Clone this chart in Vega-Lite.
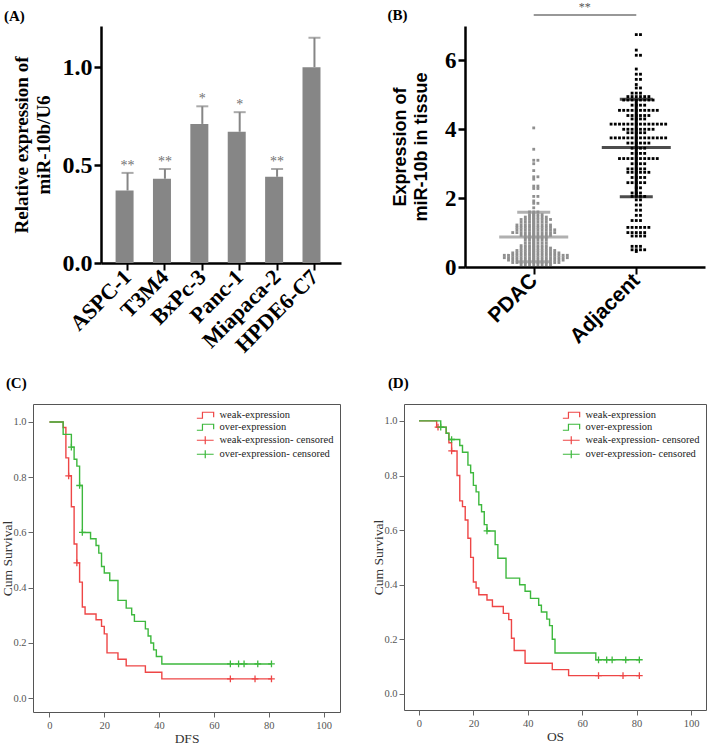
{
  "$schema": "https://vega.github.io/schema/vega-lite/v6.json",
  "background": "white",
  "padding": 0,
  "config": {
    "view": {"stroke": null},
    "font": "Liberation Serif",
    "axis": {"grid": false},
    "title": {"font": "Liberation Serif", "fontWeight": "bold", "fontSize": 15, "color": "black", "anchor": "start", "frame": "bounds"}
  },
  "resolve": {"scale": {"color": "independent"}, "legend": {"color": "independent"}},
  "spacing": 19,
  "vconcat": [
    {
      "spacing": -30,
      "resolve": {"scale": {"color": "independent"}, "legend": {"color": "independent"}},
      "hconcat": [
        {"width": 1, "height": 1, "data": {"values": []}, "mark": "point"},
        {
          "spacing": 46,
          "resolve": {"scale": {"color": "independent"}, "legend": {"color": "independent"}},
          "hconcat": [
            {
              "width": 240,
              "height": 237,
              "title": {"text": "(A)", "offset": 0, "dx": -8},
              "data": {"values": [
                {"cell": "ASPC-1", "value": 0.37, "upper": 0.46, "sig": "**"},
                {"cell": "T3M4", "value": 0.43, "upper": 0.48, "sig": "**"},
                {"cell": "BxPc-3", "value": 0.71, "upper": 0.80, "sig": "*"},
                {"cell": "Panc-1", "value": 0.67, "upper": 0.77, "sig": "*"},
                {"cell": "Miapaca-2", "value": 0.44, "upper": 0.48, "sig": "**"},
                {"cell": "HPDE6-C7", "value": 1.0, "upper": 1.15, "sig": ""}
              ]},
              "encoding": {
                "x": {"field": "cell", "type": "nominal", "sort": null,
                  "scale": {"paddingInner": 0.36, "paddingOuter": 0.39},
                  "axis": {"title": null, "labelAngle": -45, "labelAlign": "right", "labelBaseline": "middle",
                    "labelFont": "Liberation Serif", "labelFontWeight": "bold", "labelFontSize": 22, "labelColor": "black",
                    "labelPadding": 3, "domainColor": "black", "domainWidth": 2.5, "tickColor": "black", "tickWidth": 2, "tickSize": 7}}
              },
              "layer": [
                {"mark": {"type": "bar", "color": "#868686"},
                 "encoding": {"y": {"field": "value", "type": "quantitative", "scale": {"domain": [0, 1.21], "nice": false},
                   "axis": {"values": [0, 0.5, 1], "format": ".1f", "labelFont": "Liberation Serif", "labelFontWeight": "bold",
                     "labelFontSize": 24, "labelColor": "black", "labelPadding": 2, "domainColor": "black", "domainWidth": 2.5,
                     "tickColor": "black", "tickWidth": 2.5, "tickSize": 7,
                     "title": ["Relative expression of", "miR-10b/U6"], "titleFont": "Liberation Serif", "titleFontSize": 19,
                     "titleFontWeight": "bold", "titleColor": "black", "titleLineHeight": 22, "titlePadding": 9}}}},
                {"mark": {"type": "rule", "color": "#868686", "strokeWidth": 2},
                 "encoding": {"y": {"field": "value", "type": "quantitative"}, "y2": {"field": "upper"}}},
                {"mark": {"type": "tick", "color": "#868686", "thickness": 2, "size": 12},
                 "encoding": {"y": {"field": "upper", "type": "quantitative"}}},
                {"mark": {"type": "text", "color": "#707070", "fontSize": 14, "baseline": "alphabetic", "dy": -3},
                 "encoding": {"y": {"field": "upper", "type": "quantitative"}, "text": {"field": "sig"}}}
              ]
            },
            {
              "width": 240,
              "height": 241,
              "title": {"text": "(B)", "offset": -22, "dx": -4},
              "layer": [
                {
                  "data": {"values": [
                    {"g":"PDAC","v":4.04},{"g":"PDAC","v":3.42},{"g":"PDAC","v":3.1},{"g":"PDAC","v":3.1},{"g":"PDAC","v":3.0},
                    {"g":"PDAC","v":2.8},{"g":"PDAC","v":2.62},{"g":"PDAC","v":2.62},{"g":"PDAC","v":2.55},{"g":"PDAC","v":2.35},
                    {"g":"PDAC","v":2.35},{"g":"PDAC","v":2.28},{"g":"PDAC","v":2.28},{"g":"PDAC","v":2.05},{"g":"PDAC","v":2.05},
                    {"g":"PDAC","v":1.92},{"g":"PDAC","v":1.85},{"g":"PDAC","v":1.85},{"g":"PDAC","v":1.72},
                    {"g":"PDAC","v":1.6},{"g":"PDAC","v":1.6},{"g":"PDAC","v":1.6},
                    {"g":"PDAC","v":1.52},{"g":"PDAC","v":1.52},{"g":"PDAC","v":1.52},{"g":"PDAC","v":1.52},
                    {"g":"PDAC","v":1.45},{"g":"PDAC","v":1.45},{"g":"PDAC","v":1.45},{"g":"PDAC","v":1.45},{"g":"PDAC","v":1.45},{"g":"PDAC","v":1.45},
                    {"g":"PDAC","v":1.38},{"g":"PDAC","v":1.38},{"g":"PDAC","v":1.38},{"g":"PDAC","v":1.38},{"g":"PDAC","v":1.38},{"g":"PDAC","v":1.38},{"g":"PDAC","v":1.38},{"g":"PDAC","v":1.38},
                    {"g":"PDAC","v":1.3},{"g":"PDAC","v":1.3},{"g":"PDAC","v":1.3},{"g":"PDAC","v":1.3},{"g":"PDAC","v":1.3},{"g":"PDAC","v":1.3},{"g":"PDAC","v":1.3},
                    {"g":"PDAC","v":1.22},{"g":"PDAC","v":1.22},{"g":"PDAC","v":1.22},{"g":"PDAC","v":1.22},{"g":"PDAC","v":1.22},{"g":"PDAC","v":1.22},{"g":"PDAC","v":1.22},{"g":"PDAC","v":1.22},{"g":"PDAC","v":1.22},
                    {"g":"PDAC","v":1.15},{"g":"PDAC","v":1.15},{"g":"PDAC","v":1.15},{"g":"PDAC","v":1.15},{"g":"PDAC","v":1.15},{"g":"PDAC","v":1.15},{"g":"PDAC","v":1.15},{"g":"PDAC","v":1.15},{"g":"PDAC","v":1.15},
                    {"g":"PDAC","v":1.08},{"g":"PDAC","v":1.08},{"g":"PDAC","v":1.08},{"g":"PDAC","v":1.08},{"g":"PDAC","v":1.08},{"g":"PDAC","v":1.08},{"g":"PDAC","v":1.08},{"g":"PDAC","v":1.08},{"g":"PDAC","v":1.08},{"g":"PDAC","v":1.08},
                    {"g":"PDAC","v":1.0},{"g":"PDAC","v":1.0},{"g":"PDAC","v":1.0},{"g":"PDAC","v":1.0},{"g":"PDAC","v":1.0},{"g":"PDAC","v":1.0},{"g":"PDAC","v":1.0},{"g":"PDAC","v":1.0},{"g":"PDAC","v":1.0},{"g":"PDAC","v":1.0},{"g":"PDAC","v":1.0},
                    {"g":"PDAC","v":0.92},{"g":"PDAC","v":0.92},{"g":"PDAC","v":0.92},{"g":"PDAC","v":0.92},{"g":"PDAC","v":0.92},{"g":"PDAC","v":0.92},{"g":"PDAC","v":0.92},{"g":"PDAC","v":0.92},
                    {"g":"PDAC","v":0.85},{"g":"PDAC","v":0.85},{"g":"PDAC","v":0.85},{"g":"PDAC","v":0.85},{"g":"PDAC","v":0.85},{"g":"PDAC","v":0.85},
                    {"g":"PDAC","v":0.78},{"g":"PDAC","v":0.78},{"g":"PDAC","v":0.78},{"g":"PDAC","v":0.78},{"g":"PDAC","v":0.78},{"g":"PDAC","v":0.78},
                    {"g":"PDAC","v":0.7},{"g":"PDAC","v":0.7},{"g":"PDAC","v":0.7},{"g":"PDAC","v":0.7},{"g":"PDAC","v":0.7},{"g":"PDAC","v":0.7},
                    {"g":"PDAC","v":0.62},{"g":"PDAC","v":0.62},{"g":"PDAC","v":0.62},{"g":"PDAC","v":0.62},{"g":"PDAC","v":0.62},{"g":"PDAC","v":0.62},{"g":"PDAC","v":0.62},
                    {"g":"PDAC","v":0.55},{"g":"PDAC","v":0.55},{"g":"PDAC","v":0.55},{"g":"PDAC","v":0.55},{"g":"PDAC","v":0.55},{"g":"PDAC","v":0.55},{"g":"PDAC","v":0.55},{"g":"PDAC","v":0.55},
                    {"g":"PDAC","v":0.48},{"g":"PDAC","v":0.48},{"g":"PDAC","v":0.48},{"g":"PDAC","v":0.48},{"g":"PDAC","v":0.48},{"g":"PDAC","v":0.48},{"g":"PDAC","v":0.48},{"g":"PDAC","v":0.48},{"g":"PDAC","v":0.48},{"g":"PDAC","v":0.48},
                    {"g":"PDAC","v":0.41},{"g":"PDAC","v":0.41},{"g":"PDAC","v":0.41},{"g":"PDAC","v":0.41},{"g":"PDAC","v":0.41},{"g":"PDAC","v":0.41},{"g":"PDAC","v":0.41},{"g":"PDAC","v":0.41},{"g":"PDAC","v":0.41},{"g":"PDAC","v":0.41},{"g":"PDAC","v":0.41},{"g":"PDAC","v":0.41},
                    {"g":"PDAC","v":0.34},{"g":"PDAC","v":0.34},{"g":"PDAC","v":0.34},{"g":"PDAC","v":0.34},{"g":"PDAC","v":0.34},{"g":"PDAC","v":0.34},{"g":"PDAC","v":0.34},{"g":"PDAC","v":0.34},{"g":"PDAC","v":0.34},{"g":"PDAC","v":0.34},{"g":"PDAC","v":0.34},{"g":"PDAC","v":0.34},{"g":"PDAC","v":0.34},{"g":"PDAC","v":0.34},{"g":"PDAC","v":0.34},{"g":"PDAC","v":0.34},
                    {"g":"PDAC","v":0.27},{"g":"PDAC","v":0.27},{"g":"PDAC","v":0.27},{"g":"PDAC","v":0.27},{"g":"PDAC","v":0.27},{"g":"PDAC","v":0.27},{"g":"PDAC","v":0.27},{"g":"PDAC","v":0.27},{"g":"PDAC","v":0.27},{"g":"PDAC","v":0.27},{"g":"PDAC","v":0.27},{"g":"PDAC","v":0.27},{"g":"PDAC","v":0.27},{"g":"PDAC","v":0.27},{"g":"PDAC","v":0.27},{"g":"PDAC","v":0.27},
                    {"g":"PDAC","v":0.2},{"g":"PDAC","v":0.2},{"g":"PDAC","v":0.2},{"g":"PDAC","v":0.2},{"g":"PDAC","v":0.2},{"g":"PDAC","v":0.2},{"g":"PDAC","v":0.2},{"g":"PDAC","v":0.2},{"g":"PDAC","v":0.2},{"g":"PDAC","v":0.2},{"g":"PDAC","v":0.2},{"g":"PDAC","v":0.2},{"g":"PDAC","v":0.2},{"g":"PDAC","v":0.2},
                    {"g":"PDAC","v":0.13},{"g":"PDAC","v":0.13},{"g":"PDAC","v":0.13},{"g":"PDAC","v":0.13},{"g":"PDAC","v":0.13},{"g":"PDAC","v":0.13},{"g":"PDAC","v":0.13},{"g":"PDAC","v":0.13},{"g":"PDAC","v":0.13},{"g":"PDAC","v":0.13},{"g":"PDAC","v":0.13},{"g":"PDAC","v":0.13},
                    {"g":"PDAC","v":0.07},{"g":"PDAC","v":0.07},{"g":"PDAC","v":0.07},{"g":"PDAC","v":0.07},{"g":"PDAC","v":0.07},{"g":"PDAC","v":0.07},{"g":"PDAC","v":0.07},{"g":"PDAC","v":0.07},
                    {"g":"Adjacent","v":6.75},{"g":"Adjacent","v":6.75},{"g":"Adjacent","v":6.3},{"g":"Adjacent","v":6.15},{"g":"Adjacent","v":6.15},
                    {"g":"Adjacent","v":5.75},{"g":"Adjacent","v":5.6},{"g":"Adjacent","v":5.6},{"g":"Adjacent","v":5.45},{"g":"Adjacent","v":5.45},
                    {"g":"Adjacent","v":5.3},{"g":"Adjacent","v":5.2},{"g":"Adjacent","v":5.2},{"g":"Adjacent","v":5.05},{"g":"Adjacent","v":5.05},{"g":"Adjacent","v":5.05},
                    {"g":"Adjacent","v":4.95},{"g":"Adjacent","v":4.95},{"g":"Adjacent","v":4.95},{"g":"Adjacent","v":4.95},{"g":"Adjacent","v":4.95},{"g":"Adjacent","v":4.95},
                    {"g":"Adjacent","v":4.85},{"g":"Adjacent","v":4.85},{"g":"Adjacent","v":4.85},{"g":"Adjacent","v":4.85},{"g":"Adjacent","v":4.85},{"g":"Adjacent","v":4.85},{"g":"Adjacent","v":4.85},{"g":"Adjacent","v":4.85},
                    {"g":"Adjacent","v":4.7},{"g":"Adjacent","v":4.7},{"g":"Adjacent","v":4.7},{"g":"Adjacent","v":4.7},
                    {"g":"Adjacent","v":4.55},{"g":"Adjacent","v":4.55},{"g":"Adjacent","v":4.55},{"g":"Adjacent","v":4.55},{"g":"Adjacent","v":4.55},{"g":"Adjacent","v":4.55},{"g":"Adjacent","v":4.55},{"g":"Adjacent","v":4.55},{"g":"Adjacent","v":4.55},{"g":"Adjacent","v":4.55},
                    {"g":"Adjacent","v":4.4},{"g":"Adjacent","v":4.4},{"g":"Adjacent","v":4.4},{"g":"Adjacent","v":4.4},{"g":"Adjacent","v":4.4},{"g":"Adjacent","v":4.4},
                    {"g":"Adjacent","v":4.3},{"g":"Adjacent","v":4.3},{"g":"Adjacent","v":4.3},{"g":"Adjacent","v":4.3},
                    {"g":"Adjacent","v":4.15},{"g":"Adjacent","v":4.15},{"g":"Adjacent","v":4.15},{"g":"Adjacent","v":4.15},{"g":"Adjacent","v":4.15},{"g":"Adjacent","v":4.15},{"g":"Adjacent","v":4.15},{"g":"Adjacent","v":4.15},{"g":"Adjacent","v":4.15},{"g":"Adjacent","v":4.15},{"g":"Adjacent","v":4.15},{"g":"Adjacent","v":4.15},{"g":"Adjacent","v":4.15},{"g":"Adjacent","v":4.15},
                    {"g":"Adjacent","v":4.0},{"g":"Adjacent","v":4.0},{"g":"Adjacent","v":4.0},{"g":"Adjacent","v":4.0},{"g":"Adjacent","v":4.0},{"g":"Adjacent","v":4.0},{"g":"Adjacent","v":4.0},{"g":"Adjacent","v":4.0},
                    {"g":"Adjacent","v":3.9},{"g":"Adjacent","v":3.9},{"g":"Adjacent","v":3.9},{"g":"Adjacent","v":3.9},{"g":"Adjacent","v":3.9},
                    {"g":"Adjacent","v":3.75},{"g":"Adjacent","v":3.75},{"g":"Adjacent","v":3.75},{"g":"Adjacent","v":3.75},{"g":"Adjacent","v":3.75},{"g":"Adjacent","v":3.75},{"g":"Adjacent","v":3.75},{"g":"Adjacent","v":3.75},{"g":"Adjacent","v":3.75},{"g":"Adjacent","v":3.75},{"g":"Adjacent","v":3.75},{"g":"Adjacent","v":3.75},{"g":"Adjacent","v":3.75},{"g":"Adjacent","v":3.75},
                    {"g":"Adjacent","v":3.6},{"g":"Adjacent","v":3.6},{"g":"Adjacent","v":3.6},{"g":"Adjacent","v":3.6},{"g":"Adjacent","v":3.6},{"g":"Adjacent","v":3.6},
                    {"g":"Adjacent","v":3.45},{"g":"Adjacent","v":3.45},{"g":"Adjacent","v":3.45},{"g":"Adjacent","v":3.45},
                    {"g":"Adjacent","v":3.3},{"g":"Adjacent","v":3.3},{"g":"Adjacent","v":3.3},{"g":"Adjacent","v":3.3},
                    {"g":"Adjacent","v":3.15},{"g":"Adjacent","v":3.15},{"g":"Adjacent","v":3.15},{"g":"Adjacent","v":3.15},{"g":"Adjacent","v":3.15},{"g":"Adjacent","v":3.15},{"g":"Adjacent","v":3.15},{"g":"Adjacent","v":3.15},{"g":"Adjacent","v":3.15},{"g":"Adjacent","v":3.15},
                    {"g":"Adjacent","v":3.0},{"g":"Adjacent","v":3.0},{"g":"Adjacent","v":3.0},{"g":"Adjacent","v":3.0},
                    {"g":"Adjacent","v":2.85},{"g":"Adjacent","v":2.85},{"g":"Adjacent","v":2.85},{"g":"Adjacent","v":2.85},{"g":"Adjacent","v":2.85},
                    {"g":"Adjacent","v":2.75},{"g":"Adjacent","v":2.75},{"g":"Adjacent","v":2.75},{"g":"Adjacent","v":2.75},{"g":"Adjacent","v":2.75},{"g":"Adjacent","v":2.75},
                    {"g":"Adjacent","v":2.6},{"g":"Adjacent","v":2.6},{"g":"Adjacent","v":2.6},{"g":"Adjacent","v":2.6},
                    {"g":"Adjacent","v":2.45},{"g":"Adjacent","v":2.45},{"g":"Adjacent","v":2.45},{"g":"Adjacent","v":2.45},{"g":"Adjacent","v":2.45},
                    {"g":"Adjacent","v":2.3},{"g":"Adjacent","v":2.3},
                    {"g":"Adjacent","v":2.15},{"g":"Adjacent","v":2.15},{"g":"Adjacent","v":2.15},
                    {"g":"Adjacent","v":2.05},{"g":"Adjacent","v":2.05},{"g":"Adjacent","v":2.05},{"g":"Adjacent","v":2.05},
                    {"g":"Adjacent","v":1.95},{"g":"Adjacent","v":1.95},{"g":"Adjacent","v":1.8},{"g":"Adjacent","v":1.8},
                    {"g":"Adjacent","v":1.65},{"g":"Adjacent","v":1.65},{"g":"Adjacent","v":1.5},{"g":"Adjacent","v":1.5},
                    {"g":"Adjacent","v":1.35},{"g":"Adjacent","v":1.35},{"g":"Adjacent","v":1.35},
                    {"g":"Adjacent","v":1.15},{"g":"Adjacent","v":1.15},{"g":"Adjacent","v":1.15},{"g":"Adjacent","v":1.15},{"g":"Adjacent","v":1.15},{"g":"Adjacent","v":1.15},
                    {"g":"Adjacent","v":1.0},{"g":"Adjacent","v":1.0},{"g":"Adjacent","v":1.0},{"g":"Adjacent","v":1.0},{"g":"Adjacent","v":1.0},
                    {"g":"Adjacent","v":0.9},{"g":"Adjacent","v":0.9},{"g":"Adjacent","v":0.9},{"g":"Adjacent","v":0.9},
                    {"g":"Adjacent","v":0.6},{"g":"Adjacent","v":0.6},{"g":"Adjacent","v":0.6},
                    {"g":"Adjacent","v":0.5},{"g":"Adjacent","v":0.5},{"g":"Adjacent","v":0.5},{"g":"Adjacent","v":0.5},
                    {"g":"Adjacent","v":0.45}
                  ]},
                  "transform": [
                    {"window": [{"op": "row_number", "as": "r"}], "groupby": ["g", "v"]},
                    {"calculate": "(datum.r % 2 == 0 ? 1 : -1) * floor(datum.r / 2)", "as": "off"}
                  ],
                  "mark": {"type": "point", "shape": "square", "filled": true, "size": 8, "opacity": 1},
                  "encoding": {
                    "x": {"field": "g", "type": "nominal", "scale": {"type": "point", "padding": 0.67, "domain": ["PDAC", "Adjacent"]},
                      "axis": {"title": null, "labelAngle": -45, "labelAlign": "right", "labelBaseline": "middle",
                        "labelFont": "Liberation Sans", "labelFontWeight": "bold", "labelFontSize": 21, "labelColor": "black",
                        "labelPadding": 3, "domainColor": "black", "domainWidth": 2.5, "tickColor": "black", "tickWidth": 2, "tickSize": 7}},
                    "xOffset": {"field": "off", "type": "quantitative", "scale": {"domain": [-10, 10], "range": [-42, 42]}},
                    "y": {"field": "v", "type": "quantitative", "scale": {"domain": [0, 7], "nice": false},
                      "axis": {"values": [0, 2, 4, 6], "labelFont": "Liberation Serif", "labelFontWeight": "bold",
                        "labelFontSize": 23, "labelColor": "black", "labelPadding": 2, "domainColor": "black", "domainWidth": 2.5,
                        "tickColor": "black", "tickWidth": 2.5, "tickSize": 7,
                        "title": ["Expression of", "miR-10b in tissue"], "titleFont": "Liberation Sans", "titleFontSize": 18,
                        "titleFontWeight": "bold", "titleColor": "black", "titleLineHeight": 21, "titlePadding": 14}},
                    "color": {"field": "g", "type": "nominal", "scale": {"domain": ["PDAC", "Adjacent"], "range": ["#8f8f8f", "#000000"]}, "legend": null}
                  }
                },
                {
                  "data": {"values": [
                    {"g": "PDAC", "mean": 0.87, "lo": 0.15, "hi": 1.59},
                    {"g": "Adjacent", "mean": 3.47, "lo": 2.04, "hi": 4.87}
                  ]},
                  "layer": [
                    {"mark": {"type": "rule", "strokeWidth": 3},
                     "encoding": {"x": {"field": "g", "type": "nominal"}, "y": {"field": "lo", "type": "quantitative"}, "y2": {"field": "hi"},
                       "color": {"field": "g", "type": "nominal", "legend": null}}},
                    {"mark": {"type": "tick", "thickness": 3, "size": 69},
                     "encoding": {"x": {"field": "g", "type": "nominal"}, "y": {"field": "mean", "type": "quantitative"},
                       "color": {"field": "g", "type": "nominal", "legend": null}}},
                    {"mark": {"type": "tick", "thickness": 3, "size": 33},
                     "encoding": {"x": {"field": "g", "type": "nominal"}, "y": {"field": "lo", "type": "quantitative"},
                       "color": {"field": "g", "type": "nominal", "legend": null}}},
                    {"mark": {"type": "tick", "thickness": 3, "size": 33},
                     "encoding": {"x": {"field": "g", "type": "nominal"}, "y": {"field": "hi", "type": "quantitative"},
                       "color": {"field": "g", "type": "nominal", "legend": null}}}
                  ]
                },
                {
                  "data": {"values": [{"a": "PDAC", "b": "Adjacent", "y": 7.32, "t": "**"}]},
                  "layer": [
                    {"mark": {"type": "rule", "color": "#333333", "strokeWidth": 1.2},
                     "encoding": {"x": {"field": "a", "type": "nominal"}, "x2": {"field": "b"}, "y": {"field": "y", "type": "quantitative"}}},
                    {"mark": {"type": "text", "color": "#555555", "fontSize": 12, "dx": 51, "dy": -13, "baseline": "top"},
                     "encoding": {"x": {"field": "a", "type": "nominal"}, "y": {"field": "y", "type": "quantitative"}, "text": {"field": "t"}}}
                  ]
                }
              ]
            }
          ]
        }
      ]
    },
    {
      "spacing": 30,
      "resolve": {"scale": {"color": "independent"}, "legend": {"color": "independent"}},
      "hconcat": [
        {
          "width": 307,
          "height": 308,
          "view": {"stroke": "#555555", "strokeWidth": 1},
          "title": {"text": "(C)", "dx": 5, "offset": 13},
          "data": {"values": [
            {"series":"weak-expression","t":0,"s":1},{"series":"weak-expression","t":5,"s":0.98},{"series":"weak-expression","t":6,"s":0.87},
            {"series":"weak-expression","t":7,"s":0.805},{"series":"weak-expression","t":8,"s":0.693},{"series":"weak-expression","t":9,"s":0.558},
            {"series":"weak-expression","t":10,"s":0.49},{"series":"weak-expression","t":11,"s":0.42},{"series":"weak-expression","t":12,"s":0.33},
            {"series":"weak-expression","t":13,"s":0.305},{"series":"weak-expression","t":17,"s":0.284},{"series":"weak-expression","t":19,"s":0.26},
            {"series":"weak-expression","t":20,"s":0.233},{"series":"weak-expression","t":21,"s":0.164},{"series":"weak-expression","t":25,"s":0.141},
            {"series":"weak-expression","t":28,"s":0.117},{"series":"weak-expression","t":35,"s":0.094},{"series":"weak-expression","t":41,"s":0.07},
            {"series":"weak-expression","t":81,"s":0.07},
            {"series":"over-expression","t":0,"s":1},{"series":"over-expression","t":5,"s":0.955},{"series":"over-expression","t":8,"s":0.909},
            {"series":"over-expression","t":9,"s":0.865},{"series":"over-expression","t":10,"s":0.84},{"series":"over-expression","t":11,"s":0.77},
            {"series":"over-expression","t":12,"s":0.6},{"series":"over-expression","t":15,"s":0.577},{"series":"over-expression","t":17,"s":0.553},
            {"series":"over-expression","t":18,"s":0.525},{"series":"over-expression","t":19,"s":0.477},{"series":"over-expression","t":20,"s":0.453},
            {"series":"over-expression","t":22,"s":0.426},{"series":"over-expression","t":25,"s":0.354},{"series":"over-expression","t":28,"s":0.326},
            {"series":"over-expression","t":30,"s":0.302},{"series":"over-expression","t":31,"s":0.278},{"series":"over-expression","t":35,"s":0.251},
            {"series":"over-expression","t":36,"s":0.225},{"series":"over-expression","t":37,"s":0.2},{"series":"over-expression","t":38,"s":0.175},
            {"series":"over-expression","t":39,"s":0.151},{"series":"over-expression","t":41,"s":0.124},{"series":"over-expression","t":81,"s":0.124},
            {"series":"weak-expression- censored","t":7,"s":0.805},{"series":"weak-expression- censored","t":10,"s":0.49},
            {"series":"weak-expression- censored","t":66,"s":0.07},{"series":"weak-expression- censored","t":75,"s":0.07},{"series":"weak-expression- censored","t":81,"s":0.07},
            {"series":"over-expression- censored","t":8,"s":0.909},{"series":"over-expression- censored","t":11,"s":0.77},{"series":"over-expression- censored","t":12,"s":0.6},
            {"series":"over-expression- censored","t":66,"s":0.124},{"series":"over-expression- censored","t":69,"s":0.124},{"series":"over-expression- censored","t":71,"s":0.124},
            {"series":"over-expression- censored","t":76,"s":0.124},{"series":"over-expression- censored","t":81,"s":0.124}
          ]},
          "encoding": {
            "x": {"field": "t", "type": "quantitative", "scale": {"domain": [-6, 106], "nice": false, "zero": false},
              "axis": {"values": [0, 20, 40, 60, 80, 100], "title": "DFS", "domain": false, "labelFont": "Liberation Serif", "labelFontSize": 10.5,
                "labelColor": "#555555", "tickColor": "#666666", "tickSize": 5, "labelPadding": 3,
                "titleFont": "Liberation Serif", "titleFontSize": 13.5, "titleFontWeight": "normal", "titleColor": "#333333", "titlePadding": 1}},
            "y": {"field": "s", "type": "quantitative", "scale": {"domain": [-0.05, 1.065], "nice": false, "zero": false},
              "axis": {"values": [0, 0.2, 0.4, 0.6, 0.8, 1], "format": ".1f", "title": "Cum Survival", "domain": false, "labelFont": "Liberation Serif",
                "labelFontSize": 10.5, "labelColor": "#555555", "tickColor": "#666666", "tickSize": 5, "labelPadding": 2,
                "titleFont": "Liberation Serif", "titleFontSize": 13.5, "titleFontWeight": "normal", "titleColor": "#333333", "titlePadding": -2}},
            "color": {"field": "series", "type": "nominal",
              "scale": {"domain": ["weak-expression", "over-expression", "weak-expression- censored", "over-expression- censored"],
                "range": ["#ee4646", "#3db83d", "#ee4646", "#3db83d"]},
              "legend": {"title": null, "orient": "top-right", "offset": 6, "labelFont": "Liberation Serif", "labelFontSize": 10.5,
                "labelColor": "#222222", "symbolSize": 64, "rowPadding": 0, "labelOffset": 9, "padding": 0, "symbolStrokeWidth": 1.2,
                "encode": {"symbols": {"update": {
                  "shape": {"signal": "indexof(datum.value, 'censored') >= 0 ? 'M-2.1,0H2.1M0,-1V1' : 'M-2.1,0.75H-0.7V-0.75H2.1V0.5'"},
                  "fill": {"value": "transparent"}}}}}}
          },
          "layer": [
            {"transform": [{"filter": "indexof(datum.series, 'censored') < 0"}],
             "mark": {"type": "line", "interpolate": "step-after", "strokeWidth": 1.4}},
            {"transform": [{"filter": "indexof(datum.series, 'censored') >= 0"}],
             "mark": {"type": "point", "shape": "M-1,0H1M0,-1V1", "filled": false, "size": 45, "strokeWidth": 1.3, "opacity": 1}}
          ]
        },
        {
          "width": 302,
          "height": 306,
          "view": {"stroke": "#555555", "strokeWidth": 1},
          "title": {"text": "(D)", "dx": 16, "offset": 13},
          "data": {"values": [
            {"series":"weak-expression","t":0,"s":1},{"series":"weak-expression","t":6.5,"s":0.977},{"series":"weak-expression","t":10,"s":0.955},
            {"series":"weak-expression","t":11,"s":0.92},{"series":"weak-expression","t":12,"s":0.89},{"series":"weak-expression","t":14,"s":0.8},
            {"series":"weak-expression","t":15,"s":0.707},{"series":"weak-expression","t":16,"s":0.686},{"series":"weak-expression","t":17,"s":0.637},
            {"series":"weak-expression","t":18,"s":0.57},{"series":"weak-expression","t":19,"s":0.5},{"series":"weak-expression","t":20,"s":0.41},
            {"series":"weak-expression","t":21,"s":0.388},{"series":"weak-expression","t":22,"s":0.363},{"series":"weak-expression","t":25,"s":0.344},
            {"series":"weak-expression","t":27,"s":0.32},{"series":"weak-expression","t":31,"s":0.295},{"series":"weak-expression","t":33,"s":0.272},
            {"series":"weak-expression","t":34,"s":0.204},{"series":"weak-expression","t":35,"s":0.159},{"series":"weak-expression","t":39,"s":0.112},
            {"series":"weak-expression","t":49,"s":0.089},{"series":"weak-expression","t":55,"s":0.067},{"series":"weak-expression","t":81,"s":0.067},
            {"series":"over-expression","t":0,"s":1},{"series":"over-expression","t":8,"s":0.977},{"series":"over-expression","t":10,"s":0.955},
            {"series":"over-expression","t":11,"s":0.932},{"series":"over-expression","t":15,"s":0.91},{"series":"over-expression","t":16,"s":0.885},
            {"series":"over-expression","t":18,"s":0.838},{"series":"over-expression","t":19,"s":0.81},{"series":"over-expression","t":20,"s":0.764},
            {"series":"over-expression","t":21,"s":0.74},{"series":"over-expression","t":22,"s":0.693},{"series":"over-expression","t":23,"s":0.667},
            {"series":"over-expression","t":24,"s":0.62},{"series":"over-expression","t":25,"s":0.597},{"series":"over-expression","t":28,"s":0.547},
            {"series":"over-expression","t":29,"s":0.497},{"series":"over-expression","t":32,"s":0.424},{"series":"over-expression","t":37,"s":0.4},
            {"series":"over-expression","t":39,"s":0.376},{"series":"over-expression","t":41,"s":0.35},{"series":"over-expression","t":44,"s":0.325},
            {"series":"over-expression","t":45,"s":0.3},{"series":"over-expression","t":47,"s":0.274},{"series":"over-expression","t":48,"s":0.25},
            {"series":"over-expression","t":49,"s":0.2},{"series":"over-expression","t":50,"s":0.15},{"series":"over-expression","t":65,"s":0.125},
            {"series":"over-expression","t":81,"s":0.125},
            {"series":"weak-expression- censored","t":7,"s":0.977},{"series":"weak-expression- censored","t":12,"s":0.89},
            {"series":"weak-expression- censored","t":66,"s":0.067},{"series":"weak-expression- censored","t":75,"s":0.067},{"series":"weak-expression- censored","t":81,"s":0.067},
            {"series":"over-expression- censored","t":8,"s":0.977},{"series":"over-expression- censored","t":12,"s":0.932},{"series":"over-expression- censored","t":25,"s":0.597},
            {"series":"over-expression- censored","t":66,"s":0.125},{"series":"over-expression- censored","t":69,"s":0.125},{"series":"over-expression- censored","t":71,"s":0.125},
            {"series":"over-expression- censored","t":76,"s":0.125},{"series":"over-expression- censored","t":81,"s":0.125}
          ]},
          "encoding": {
            "x": {"field": "t", "type": "quantitative", "scale": {"domain": [-5.5, 105.5], "nice": false, "zero": false},
              "axis": {"values": [0, 20, 40, 60, 80, 100], "title": "OS", "domain": false, "labelFont": "Liberation Serif", "labelFontSize": 10.5,
                "labelColor": "#555555", "tickColor": "#666666", "tickSize": 5, "labelPadding": 3,
                "titleFont": "Liberation Serif", "titleFontSize": 13.5, "titleFontWeight": "normal", "titleColor": "#333333", "titlePadding": 1}},
            "y": {"field": "s", "type": "quantitative", "scale": {"domain": [-0.059, 1.062], "nice": false, "zero": false},
              "axis": {"values": [0, 0.2, 0.4, 0.6, 0.8, 1], "format": ".1f", "title": "Cum Survival", "domain": false, "labelFont": "Liberation Serif",
                "labelFontSize": 10.5, "labelColor": "#555555", "tickColor": "#666666", "tickSize": 5, "labelPadding": 2,
                "titleFont": "Liberation Serif", "titleFontSize": 13.5, "titleFontWeight": "normal", "titleColor": "#333333", "titlePadding": -2}},
            "color": {"field": "series", "type": "nominal",
              "scale": {"domain": ["weak-expression", "over-expression", "weak-expression- censored", "over-expression- censored"],
                "range": ["#ee4646", "#3db83d", "#ee4646", "#3db83d"]},
              "legend": {"title": null, "orient": "top-right", "offset": 6, "labelFont": "Liberation Serif", "labelFontSize": 10.5,
                "labelColor": "#222222", "symbolSize": 64, "rowPadding": 0, "labelOffset": 9, "padding": 0, "symbolStrokeWidth": 1.2,
                "encode": {"symbols": {"update": {
                  "shape": {"signal": "indexof(datum.value, 'censored') >= 0 ? 'M-2.1,0H2.1M0,-1V1' : 'M-2.1,0.75H-0.7V-0.75H2.1V0.5'"},
                  "fill": {"value": "transparent"}}}}}}
          },
          "layer": [
            {"transform": [{"filter": "indexof(datum.series, 'censored') < 0"}],
             "mark": {"type": "line", "interpolate": "step-after", "strokeWidth": 1.4}},
            {"transform": [{"filter": "indexof(datum.series, 'censored') >= 0"}],
             "mark": {"type": "point", "shape": "M-1,0H1M0,-1V1", "filled": false, "size": 45, "strokeWidth": 1.3, "opacity": 1}}
          ]
        }
      ]
    }
  ]
}
